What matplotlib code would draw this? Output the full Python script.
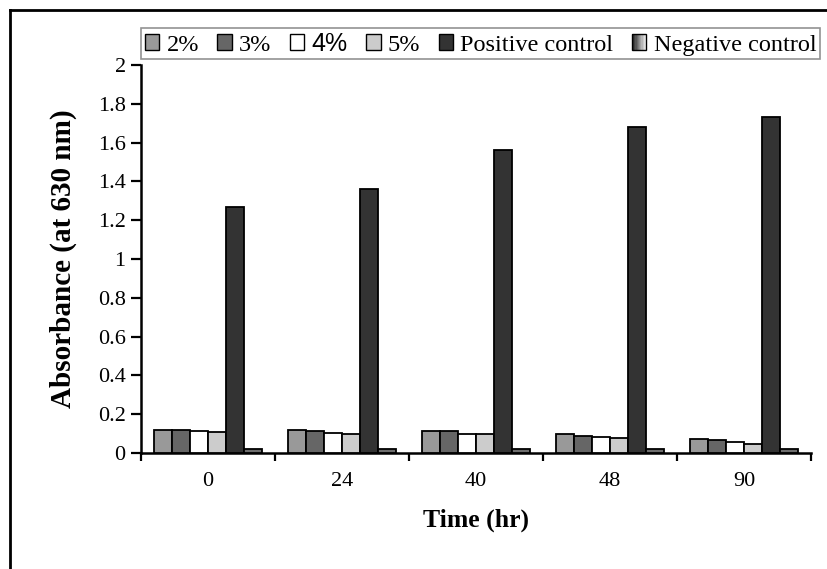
import matplotlib
matplotlib.use("Agg")
import matplotlib.pyplot as plt
import numpy as np
from matplotlib.lines import Line2D
from matplotlib.patches import Rectangle
from matplotlib.legend_handler import HandlerBase

times = ["0", "24", "40", "48", "90"]
series_names = ["2%", "3%", "4%", "5%", "Positive control", "Negative control"]
v_2 = [0.12, 0.12, 0.115, 0.10, 0.07]
v_3 = [0.12, 0.115, 0.115, 0.09, 0.065]
v_4 = [0.115, 0.105, 0.10, 0.08, 0.055]
v_5 = [0.11, 0.10, 0.10, 0.075, 0.045]
v_pos = [1.27, 1.36, 1.56, 1.68, 1.73]
v_neg = [0.02, 0.02, 0.02, 0.02, 0.02]
yticks = [0, 0.2, 0.4, 0.6, 0.8, 1, 1.2, 1.4, 1.6, 1.8, 2]
ytick_labels = ["0", "0.2", "0.4", "0.6", "0.8", "1", "1.2", "1.4", "1.6", "1.8", "2"]

colors = ["#999999", "#666666", "#ffffff", "#cccccc", "#333333", "#6e6e6e"]
series = [v_2, v_3, v_4, v_5, v_pos, v_neg]

serif = "Liberation Serif"
fig = plt.figure(figsize=(8.28, 5.69), dpi=100)
ax = fig.add_axes([141/828, 1-453/569, (811-141)/828, (453-65)/569])

x = np.arange(len(times))
bw = 0.135
offsets = (np.arange(6) - 2.5) * bw
for i, (vals, c) in enumerate(zip(series, colors)):
    ax.bar(x + offsets[i], vals, width=bw, color=c, edgecolor="black", linewidth=1.3, zorder=3)

ax.set_xlim(-0.5, len(times) - 0.5)
ax.set_ylim(0, 2)
ax.set_yticks(yticks)
ax.set_yticklabels(ytick_labels, fontfamily=serif, fontsize=16)
ax.set_xticks(np.arange(len(times) + 1) - 0.5)
ax.set_xticklabels([])
ax.set_xticks(x, minor=True)
ax.set_xticklabels(times, minor=True, fontfamily=serif, fontsize=16)
ax.tick_params(axis="x", which="minor", length=0, pad=14)
ax.tick_params(axis="x", which="major", length=6, width=1.6, direction="out")
ax.tick_params(axis="y", length=7, width=1.6, direction="out", pad=4)
for s in ["top", "right"]:
    ax.spines[s].set_visible(False)
for s in ["left", "bottom"]:
    ax.spines[s].set_linewidth(1.8)

ax.set_ylabel("Absorbance (at 630 nm)", fontfamily=serif, fontsize=21, fontweight="bold", labelpad=15)
ax.set_xlabel("Time (hr)", fontfamily=serif, fontsize=18.5, fontweight="bold", labelpad=12)


class GradHandler(HandlerBase):
    def create_artists(self, legend, orig_handle, xdescent, ydescent, width, height, fontsize, trans):
        arts = []
        n = 12
        w = width / n
        for k in range(n):
            g = 0.1 + 0.85 * k / (n - 1)
            r = Rectangle((-xdescent + k * w, -ydescent), w, height,
                          facecolor=(g, g, g), edgecolor="none", transform=trans)
            arts.append(r)
        arts.append(Rectangle((-xdescent, -ydescent), width, height, facecolor="none",
                              edgecolor="black", linewidth=1.0, transform=trans))
        return arts


handles = [Rectangle((0, 0), 1, 1, facecolor=c, edgecolor="black", linewidth=1.0) for c in colors[:5]]
neg_handle = Rectangle((0, 0), 1, 1)
handles.append(neg_handle)
leg = fig.legend(handles, series_names, loc="upper left", bbox_to_anchor=(141/828, 1-28/569),
                 ncol=6, frameon=True, fancybox=False, handlelength=0.6, handleheight=0.6,
                 handletextpad=0.3, columnspacing=0.75, borderpad=0.15, borderaxespad=0,
                 prop={"family": serif, "size": 17.5},
                 handler_map={neg_handle: GradHandler()})
leg.get_frame().set_edgecolor("#777777")
leg.get_frame().set_linewidth(1.2)
for t in leg.get_texts():
    if t.get_text() == "4%":
        t.set_fontfamily("Liberation Sans")
        t.set_fontsize(18)

# outer frame
fig.add_artist(Line2D([10/828, 1], [1-10/569, 1-10/569], color="black", linewidth=2, transform=fig.transFigure))
fig.add_artist(Line2D([10/828, 10/828], [0, 1-10/569], color="black", linewidth=2, transform=fig.transFigure))

fig.savefig("out.png", dpi=100)
